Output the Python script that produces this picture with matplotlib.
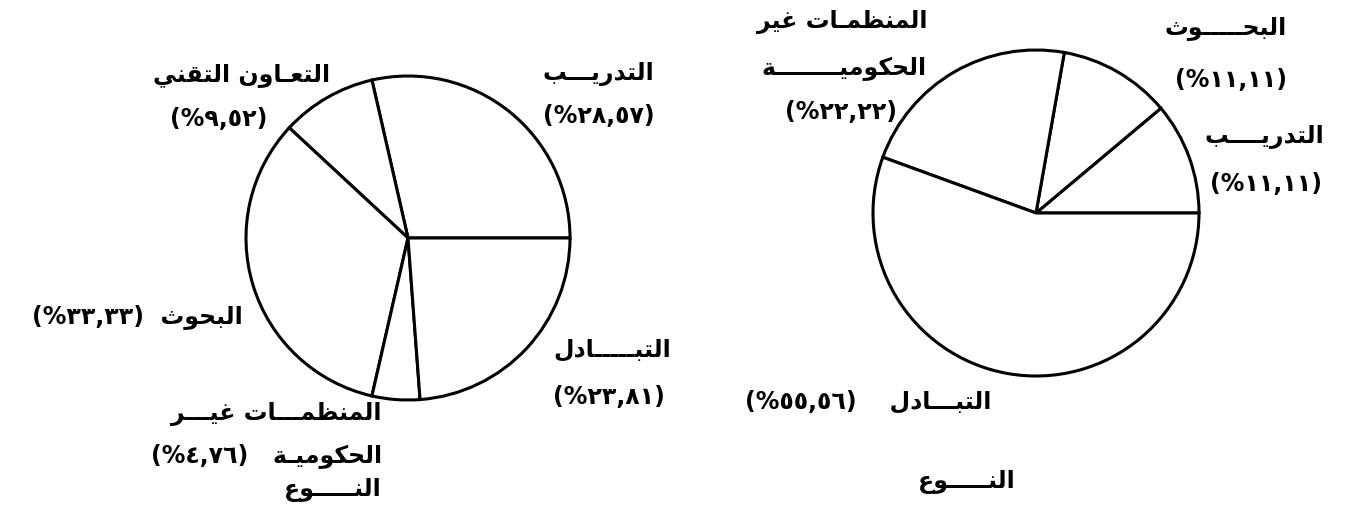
import matplotlib
matplotlib.use('Agg')
import matplotlib.pyplot as plt

# الدائرة اليسرى
left_labels = ['التدريـــب', 'التعـاون التقني', 'البحوث', 'المنظمـــات غيـــر\nالحكوميـة', 'التبـــــادل']
left_values = [28.57, 9.52, 33.33, 4.76, 23.81]

# الدائرة اليمنى
right_labels = ['التدريــــب', 'البحـــــوث', 'المنظمـات غير\nالحكوميــــــــة', 'التبـــادل']
right_values = [11.11, 11.11, 22.22, 55.56]

axis_title = 'النـــــوع'

# presentation forms: (isolated, final, initial, medial)
FORMS = {
    'ا': ('\uFE8D', '\uFE8E'),
    'ب': ('\uFE8F', '\uFE90', '\uFE91', '\uFE92'),
    'ة': ('\uFE93', '\uFE94'),
    'ت': ('\uFE95', '\uFE96', '\uFE97', '\uFE98'),
    'ث': ('\uFE99', '\uFE9A', '\uFE9B', '\uFE9C'),
    'ح': ('\uFEA1', '\uFEA2', '\uFEA3', '\uFEA4'),
    'د': ('\uFEA9', '\uFEAA'),
    'ر': ('\uFEAD', '\uFEAE'),
    'ظ': ('\uFEC5', '\uFEC6', '\uFEC7', '\uFEC8'),
    'ع': ('\uFEC9', '\uFECA', '\uFECB', '\uFECC'),
    'غ': ('\uFECD', '\uFECE', '\uFECF', '\uFED0'),
    'ق': ('\uFED5', '\uFED6', '\uFED7', '\uFED8'),
    'ك': ('\uFED9', '\uFEDA', '\uFEDB', '\uFEDC'),
    'ل': ('\uFEDD', '\uFEDE', '\uFEDF', '\uFEE0'),
    'م': ('\uFEE1', '\uFEE2', '\uFEE3', '\uFEE4'),
    'ن': ('\uFEE5', '\uFEE6', '\uFEE7', '\uFEE8'),
    'و': ('\uFEED', '\uFEEE'),
    'ي': ('\uFEF1', '\uFEF2', '\uFEF3', '\uFEF4'),
}
TATWEEL = 'ـ'


def shape(word):
    # matplotlib has no arabic shaping, so pick the glyph forms by hand
    out = []
    for i, ch in enumerate(word):
        if ch not in FORMS:
            out.append(ch)
            continue
        prev = word[i - 1] if i > 0 else ''
        nxt = word[i + 1] if i + 1 < len(word) else ''
        f = FORMS[ch]
        jp = prev == TATWEEL or (prev in FORMS and len(FORMS[prev]) == 4)
        jn = len(f) == 4 and (nxt == TATWEEL or nxt in FORMS)
        if jp and jn:
            out.append(f[3])
        elif jp:
            out.append(f[1])
        elif jn:
            out.append(f[2])
        else:
            out.append(f[0])
    return ''.join(reversed(out))


def pct(v):
    s = f'{v:.2f}'.replace('.', ',')
    s = s.translate(str.maketrans('0123456789', '٠١٢٣٤٥٦٧٨٩'))
    return '(%' + s + ')'


W, H = 1353, 508
fig = plt.figure(figsize=(W / 100, H / 100), dpi=100)
ax = fig.add_axes([0, 0, 1, 1])

wp = dict(edgecolor='black', linewidth=2.2, facecolor='white')
# y axis is flipped below, so counterclock=False draws anticlockwise on screen
ax.pie(left_values, center=(408, 238), radius=162, startangle=0,
       counterclock=False, wedgeprops=wp)
ax.pie(right_values, center=(1036, 213), radius=163, startangle=0,
       counterclock=False, wedgeprops=wp)

ax.set_xlim(0, W)
ax.set_ylim(H, 0)
ax.set_aspect('equal')
ax.axis('off')

FS = 17


def put(s, x, y, ha):
    ax.text(x, y, s, ha=ha, va='center', fontsize=FS, fontweight='bold',
            family=['DejaVu Sans', 'Noto Sans'], color='black')


# left pie labels
put(shape(left_labels[0]), 543, 74, 'left')
put(pct(left_values[0]), 543, 116, 'left')
put(shape(left_labels[1]), 330, 75, 'right')
put(pct(left_values[1]), 267, 119, 'right')
put(pct(left_values[2]) + '  ' + shape(left_labels[2]), 243, 317, 'right')
ngo1, ngo2 = left_labels[3].split('\n')
put(shape(ngo1), 382, 414, 'right')
put(pct(left_values[3]) + '   ' + shape(ngo2), 382, 456, 'right')
put(shape(left_labels[4]), 553, 350, 'left')
put(pct(left_values[4]), 553, 397, 'left')
put(shape(axis_title), 382, 490, 'right')

# right pie labels
put(shape(right_labels[0]), 1205, 137, 'left')
put(pct(right_values[0]), 1210, 184, 'left')
put(shape(right_labels[1]), 1165, 28, 'left')
put(pct(right_values[1]), 1175, 80, 'left')
ngo1, ngo2 = right_labels[2].split('\n')
put(shape(ngo1), 927, 22, 'right')
put(shape(ngo2), 927, 69, 'right')
put(pct(right_values[2]), 897, 112, 'right')
put(pct(right_values[3]) + '    ' + shape(right_labels[3]), 745, 402, 'left')
put(shape(axis_title), 967, 482, 'center')

fig.savefig('out.png', dpi=100, facecolor='white')
